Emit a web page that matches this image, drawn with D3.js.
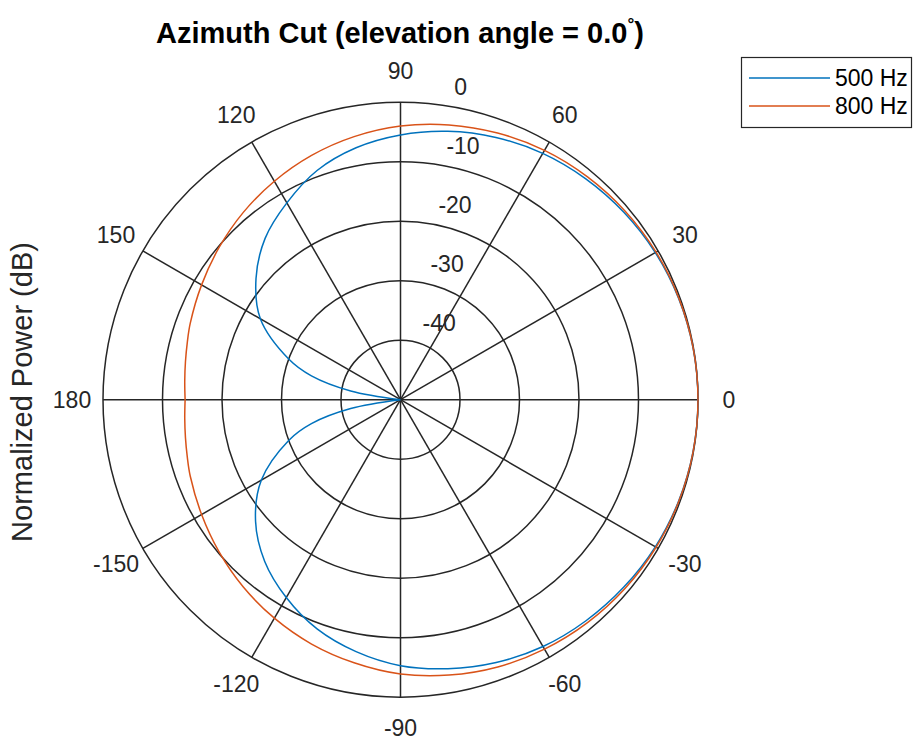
<!DOCTYPE html>
<html><head><meta charset="utf-8">
<script src="https://cdn.jsdelivr.net/npm/d3@7"></script>
<style>
html,body{margin:0;padding:0;background:#fff;}
svg{display:block;font-family:"Liberation Sans",Arial,Helvetica,sans-serif;}
</style></head>
<body>
<svg id="chart" width="914" height="744"></svg>
<script>
// ---------- data ----------
const angles = [-180,-175,-170,-165,-160,-150,-140,-130,-120,-110,-100,-90,-80,-70,-60,-50,-40,-30,-20,-10,
  0,10,20,30,40,50,60,70,80,90,100,110,120,130,140,150,160,165,170,175,180];
const seriesNames = ["500 Hz","800 Hz"];
const power500 = [-50,-50,-41.5,-34.5,-30.0,-23.0,-18.2,-14.5,-11.6,-9.0,-7.0,-5.3,-4.1,-3.0,-2.1,-1.5,-1.0,-0.55,-0.25,-0.06,
  0,-0.06,-0.25,-0.55,-1.0,-1.55,-2.2,-3.1,-4.2,-5.5,-7.0,-9.0,-11.8,-14.6,-18.3,-22.8,-30.0,-34.5,-41.5,-50,-50];
const power800 = [-13.8,-13.6,-13.3,-12.9,-12.4,-11.4,-10.2,-8.9,-7.6,-6.3,-5.1,-3.9,-3.0,-2.2,-1.6,-1.1,-0.7,-0.4,-0.2,-0.05,
  0,-0.05,-0.2,-0.4,-0.7,-1.1,-1.6,-2.3,-3.1,-4.0,-5.1,-6.3,-7.6,-8.9,-10.2,-11.4,-12.4,-12.9,-13.3,-13.6,-13.8];
const thetaTicks = [0,30,60,90,120,150,180,210,240,270,300,330];
const thetaTickLabels = ["0","30","60","90","120","150","180","-150","-120","-90","-60","-30"];
const rTicks = [-50,-40,-30,-20,-10,0];
const rTickLabels = ["","-40","-30","-20","-10","0"];
const colors = ["#0072BD","#D95319"];
const titleText = "Azimuth Cut (elevation angle = 0.0";
const yLabel = "Normalized Power (dB)";

// ---------- layout ----------
const svg = d3.select("#chart");
const cx = 400.5, cy = 399.7, R = 297.5;
const r = d3.scaleLinear().domain([-50, 0]).range([0, R]).clamp(true);
const toRad = d => (90 - d) * Math.PI / 180; // math angle -> d3 radial angle
const g = svg.append("g").attr("transform", `translate(${cx},${cy})`);
const gridColor = "#262626";

// rings
g.selectAll("circle.ring").data(rTicks.filter(v => v > -50)).join("circle")
  .attr("class","ring").attr("r", d => r(d))
  .attr("fill","none").attr("stroke", gridColor).attr("stroke-width", 1.5);

// spokes
g.selectAll("line.spoke").data(thetaTicks).join("line")
  .attr("class","spoke")
  .attr("x1",0).attr("y1",0)
  .attr("x2", d => R * Math.cos(d*Math.PI/180))
  .attr("y2", d => -R * Math.sin(d*Math.PI/180))
  .attr("stroke", gridColor).attr("stroke-width", 1.5);

// angle labels
g.selectAll("text.tlab").data(thetaTicks).join("text")
  .attr("class","tlab")
  .attr("x", d => (R + 31) * Math.cos(d*Math.PI/180))
  .attr("y", d => -(R + 31) * Math.sin(d*Math.PI/180))
  .attr("text-anchor","middle").attr("dominant-baseline","central")
  .attr("font-size", 23).attr("fill","#262626")
  .text((d,i) => thetaTickLabels[i]);

// radial labels
const rAng = 82.3 * Math.PI / 180;
g.selectAll("text.rlab").data(rTicks).join("text")
  .attr("class","rlab")
  .attr("x", d => r(d) * Math.cos(rAng) + 14)
  .attr("y", d => -r(d) * Math.sin(rAng) - 10)
  .attr("text-anchor","start")
  .attr("font-size", 23).attr("fill","#262626")
  .text((d,i) => rTickLabels[i]);

// series
const line = d3.lineRadial()
  .angle(d => toRad(d[0]))
  .radius(d => r(d[1]))
  .curve(d3.curveCatmullRom.alpha(0.5));
[power500, power800].forEach((vals, k) => {
  g.append("path")
    .datum(angles.map((a,i) => [a, vals[i]]))
    .attr("d", line)
    .attr("fill","none").attr("stroke", colors[k]).attr("stroke-width", 1.5);
});

// title
const t = svg.append("text").attr("x", 400).attr("y", 43)
  .attr("text-anchor","middle").attr("font-size", 29).attr("font-weight","bold").attr("fill","#000");
t.append("tspan").text(titleText);
t.append("tspan").attr("font-size", 17).attr("dy", -13).text("°");
t.append("tspan").attr("dy", 13).text(")");

// y label
svg.append("text")
  .attr("transform", "translate(32,392) rotate(-90)")
  .attr("text-anchor","middle").attr("font-size", 29).attr("fill","#262626")
  .text(yLabel);

// legend
const lg = svg.append("g");
lg.append("rect").attr("x", 741.5).attr("y", 57.5).attr("width", 170).attr("height", 70)
  .attr("fill","#fff").attr("stroke","#262626").attr("stroke-width", 1.2);
seriesNames.forEach((name, i) => {
  const y = 78 + i * 28;
  lg.append("line").attr("x1", 749).attr("x2", 830).attr("y1", y).attr("y2", y)
    .attr("stroke", colors[i]).attr("stroke-width", 1.5);
  lg.append("text").attr("x", 835).attr("y", y).attr("dominant-baseline","central")
    .attr("font-size", 23).attr("fill","#000").text(name);
});
</script>
</body></html>
